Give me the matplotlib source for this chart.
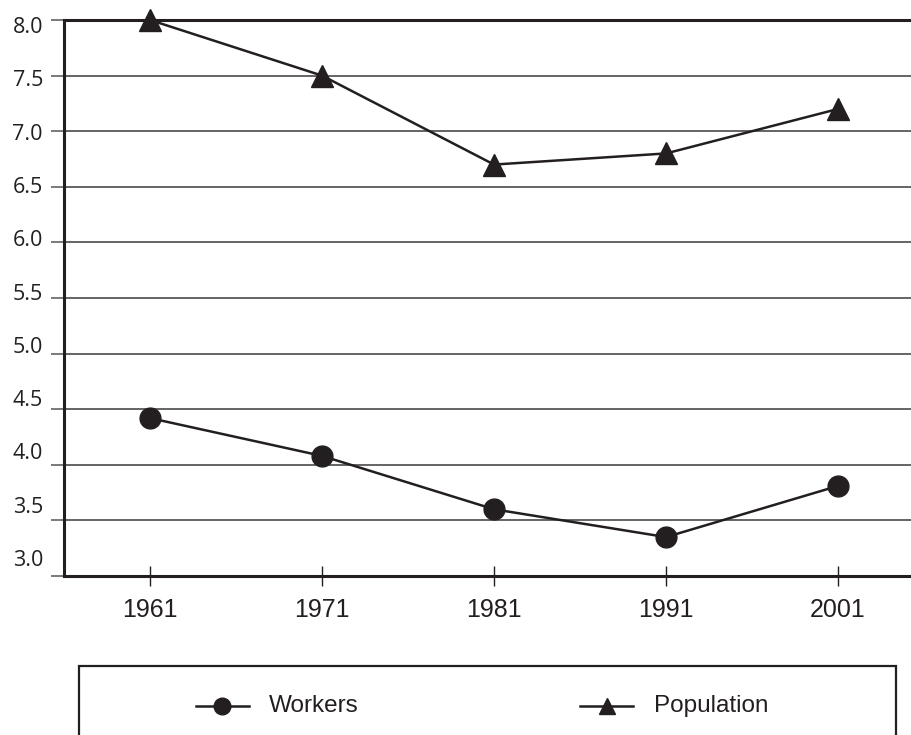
import matplotlib
matplotlib.use('Agg')
import matplotlib.pyplot as plt
from matplotlib.lines import Line2D
from matplotlib.patches import Rectangle
from matplotlib.transforms import offset_copy, blended_transform_factory

years = [1961, 1971, 1981, 1991, 2001]
workers = [4.42, 4.08, 3.60, 3.35, 3.81]
population = [8.0, 7.5, 6.7, 6.8, 7.2]
y_ticks = [3.0, 3.5, 4.0, 4.5, 5.0, 5.5, 6.0, 6.5, 7.0, 7.5, 8.0]
y_labels = ['3.0', '3.5', '4.0', '4.5', '5.0', '5.5', '6.0', '6.5', '7.0', '7.5', '8.0']
series_names = ['Workers', 'Population']

ink = '#231f20'
W, H = 912, 735

fig = plt.figure(figsize=(W / 100, H / 100), dpi=100)
ax = fig.add_axes([64 / W, 1 - 576 / H, (912 - 64) / W, (576 - 20) / H])

ax.set_xlim(1956.0, 2005.3)
ax.set_ylim(3.0, 8.0)

# horizontal grid lines
for v in y_ticks[1:-1]:
    ax.axhline(v, color='#3a3a3a', linewidth=1.1, zorder=1)

ax.plot(years, workers, color=ink, linewidth=1.8, marker='o', markersize=15,
        zorder=3, clip_on=False)
ax.plot(years, population, color=ink, linewidth=1.8, marker='^', markersize=15.5,
        zorder=3, clip_on=False)

for side in ['left', 'bottom', 'top']:
    ax.spines[side].set_linewidth(2.2)
    ax.spines[side].set_color(ink)
ax.spines['right'].set_visible(False)

ax.set_xticks(years)
ax.set_xticklabels([str(y) for y in years], family='Liberation Sans',
                   fontsize=18, color=ink)
ax.tick_params(axis='x', direction='inout', length=14, width=1.0, color=ink, pad=9)

ax.set_yticks(y_ticks)
ax.set_yticklabels([])
ax.tick_params(axis='y', direction='out', length=9.5, width=1.1, color='#555555')

# y labels drift slightly against the grid, as in the printed original
base = blended_transform_factory(ax.transAxes, ax.transData)
for v, lab in zip(y_ticks, y_labels):
    shift = 7.5 - (8.0 - v) * 4.6
    tr = offset_copy(base, fig=fig, x=-21, y=-shift, units='dots')
    ax.text(0, v, lab, transform=tr, ha='right', va='center',
            family='Open Sans', fontsize=15.5, color=ink)

# legend box, cut at the bottom of the image
fig.add_artist(Rectangle((79 / W, 1 - 746 / H), (896 - 79) / W, (746 - 666) / H,
                         transform=fig.transFigure, fill=False, edgecolor=ink,
                         linewidth=1.6))
leg_y = 1 - 706 / H
for (x0, x1, xt), mk, ms, name in zip([(196, 249, 269), (580, 633, 654)],
                                      ['o', '^'], [12, 12], series_names):
    fig.add_artist(Line2D([x0 / W, x1 / W], [leg_y, leg_y], transform=fig.transFigure,
                          color=ink, linewidth=1.8))
    fig.add_artist(Line2D([(x0 + x1) / 2 / W], [leg_y], transform=fig.transFigure,
                          color=ink, marker=mk, markersize=ms, linestyle='none'))
    fig.text(xt / W, leg_y, name, ha='left', va='center', family='Liberation Sans',
             fontsize=17.5, color=ink)

fig.savefig('out.png', dpi=100)
